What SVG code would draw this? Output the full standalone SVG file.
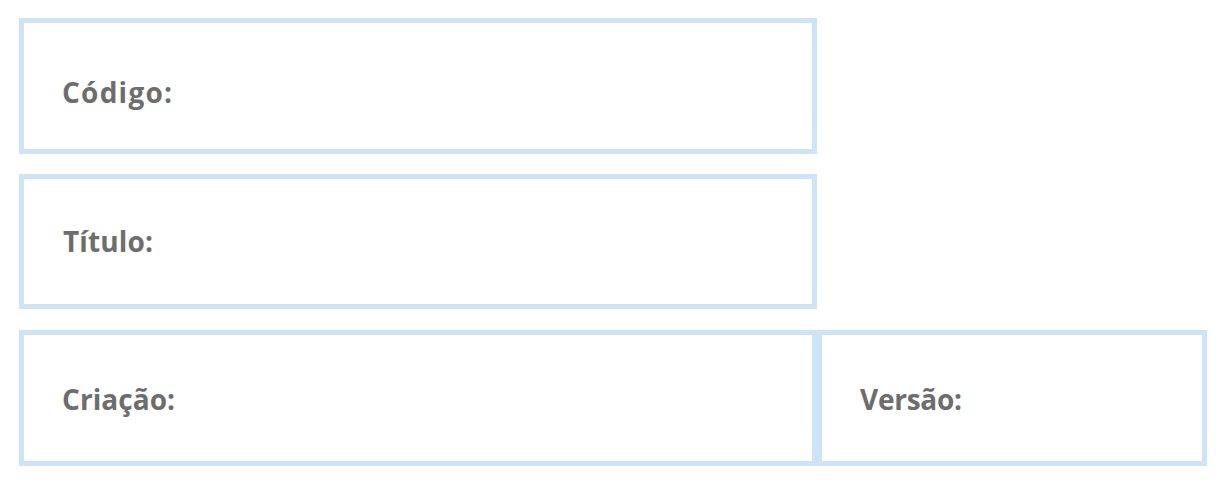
<svg xmlns="http://www.w3.org/2000/svg" width="1222" height="495" viewBox="0 0 1222 495">
<style>
.box{fill:#fff;stroke:#cce4f5;stroke-width:5}
.lbl{font-family:"Open Sans","Noto Sans",sans-serif;font-weight:bold;font-size:28px;fill:#6d6d6d}
</style>
<rect width="1222" height="495" fill="#fff"/>
<g id="codigo"><rect class="box" x="21.5" y="20.5" width="793" height="131"/><text class="lbl" x="62" y="103" textLength="110" lengthAdjust="spacing">Código:</text></g>
<g id="titulo"><rect class="box" x="21.5" y="176.5" width="793" height="130"/><text class="lbl" x="63" y="252" textLength="90" lengthAdjust="spacing">Título:</text></g>
<g id="criacao"><rect class="box" x="21.5" y="332.5" width="793" height="131"/><text class="lbl" x="62" y="410" textLength="113" lengthAdjust="spacing">Criação:</text></g>
<g id="versao"><rect class="box" x="819.5" y="332.5" width="385" height="131"/><text class="lbl" x="860" y="410" textLength="102" lengthAdjust="spacing">Versão:</text></g>
<g id="connectors"></g>
</svg>
